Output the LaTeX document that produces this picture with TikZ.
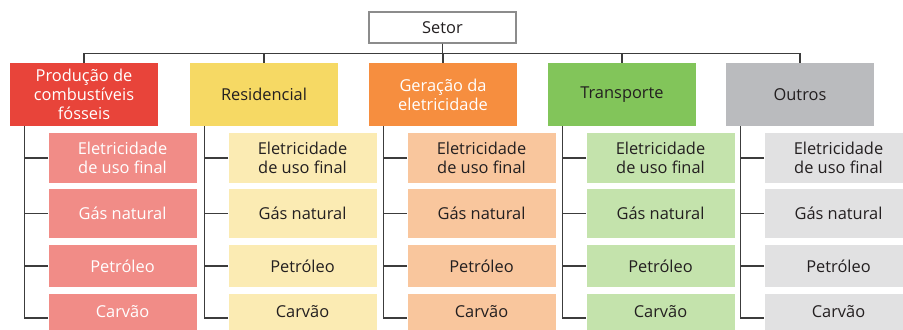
\documentclass[tikz,border=0pt]{standalone}
\usepackage{fontspec}
\setmainfont{Open Sans}
\usepackage{xcolor}
\usetikzlibrary{calc, positioning}

% cores dos setores (forte / clara)
\definecolor{vermelho}{HTML}{E8443A}
\definecolor{vermelhoclaro}{HTML}{F18C87}
\definecolor{amarelo}{HTML}{F6D964}
\definecolor{amareloclaro}{HTML}{FBEBB3}
\definecolor{laranja}{HTML}{F68E3F}
\definecolor{laranjaclaro}{HTML}{F9C69D}
\definecolor{verde}{HTML}{82C55A}
\definecolor{verdeclaro}{HTML}{C4E3AC}
\definecolor{cinza}{HTML}{BABBBE}
\definecolor{cinzaclaro}{HTML}{E1E1E2}
\definecolor{linha}{HTML}{3C3C3C}
\definecolor{texto}{HTML}{231F20}

\begin{document}
\begin{tikzpicture}[x=0.75pt, y=-0.75pt,
    caixa/.style={inner sep=0pt, minimum width=111pt, align=center,
        font=\fontsize{12.3}{14.3}\selectfont, text=texto},
    setorbox/.style={caixa, draw=black!45, line width=0.8pt, fill=white,
        minimum width=110.25pt, minimum height=23.25pt},
    topo/.style={caixa, minimum height=47.25pt},
    liga/.style={draw=linha, line width=1pt}]

    % =================================================================
    % 1. MOLDURA E CAIXA PRINCIPAL
    % =================================================================
    \clip (0,0) rectangle (903,329);
    \node[setorbox] (setor) at (442.5,27.5) {Setor};

    % =================================================================
    % 2. COLUNAS: SETOR -> FONTES
    % =================================================================
    % \xe = borda esquerda da caixa do setor (em px)
    \foreach \i/\xe/\cor/\clara/\ct/\cs/\txt in {
        1/10/vermelho/vermelhoclaro/white/white/{Produção de\\combustíveis\\fósseis},
        2/190/amarelo/amareloclaro/texto/texto/{Residencial},
        3/369/laranja/laranjaclaro/white/texto/{Geração da\\eletricidade},
        4/548/verde/verdeclaro/texto/texto/{Transporte},
        5/726/cinza/cinzaclaro/texto/texto/{Outros}}
    {
        % caixa do setor
        \node[topo, fill=\cor, text=\ct] (s\i) at (\xe+74,94.5) {\txt};
        \coordinate (t\i) at ([xshift=11.25pt]s\i.south west);

        % fontes de energia
        \node[caixa, fill=\clara, text=\cs, minimum height=37.5pt]
            (a\i) at (\xe+112.5,158) {Eletricidade\\de uso final};
        \node[caixa, fill=\clara, text=\cs, minimum height=36.75pt]
            (b\i) at (\xe+112.5,213.5) {Gás natural};
        \node[caixa, fill=\clara, text=\cs, minimum height=31.5pt]
            (c\i) at (\xe+112.5,266) {Petróleo};
        \node[caixa, fill=\clara, text=\cs, minimum height=27pt]
            (d\i) at (\xe+112.5,312) {Carvão};

        % ligações
        \draw[liga] (setor.south) -- ++(0,10) -| (s\i.north);
        \draw[liga] (t\i) |- ([yshift=-4.5pt]d\i.west);
        \draw[liga] (a\i.west) -- (a\i.west -| t\i);
        \draw[liga] (b\i.west) -- (b\i.west -| t\i);
        \draw[liga] (c\i.west) -- (c\i.west -| t\i);
    }

\end{tikzpicture}
\end{document}
